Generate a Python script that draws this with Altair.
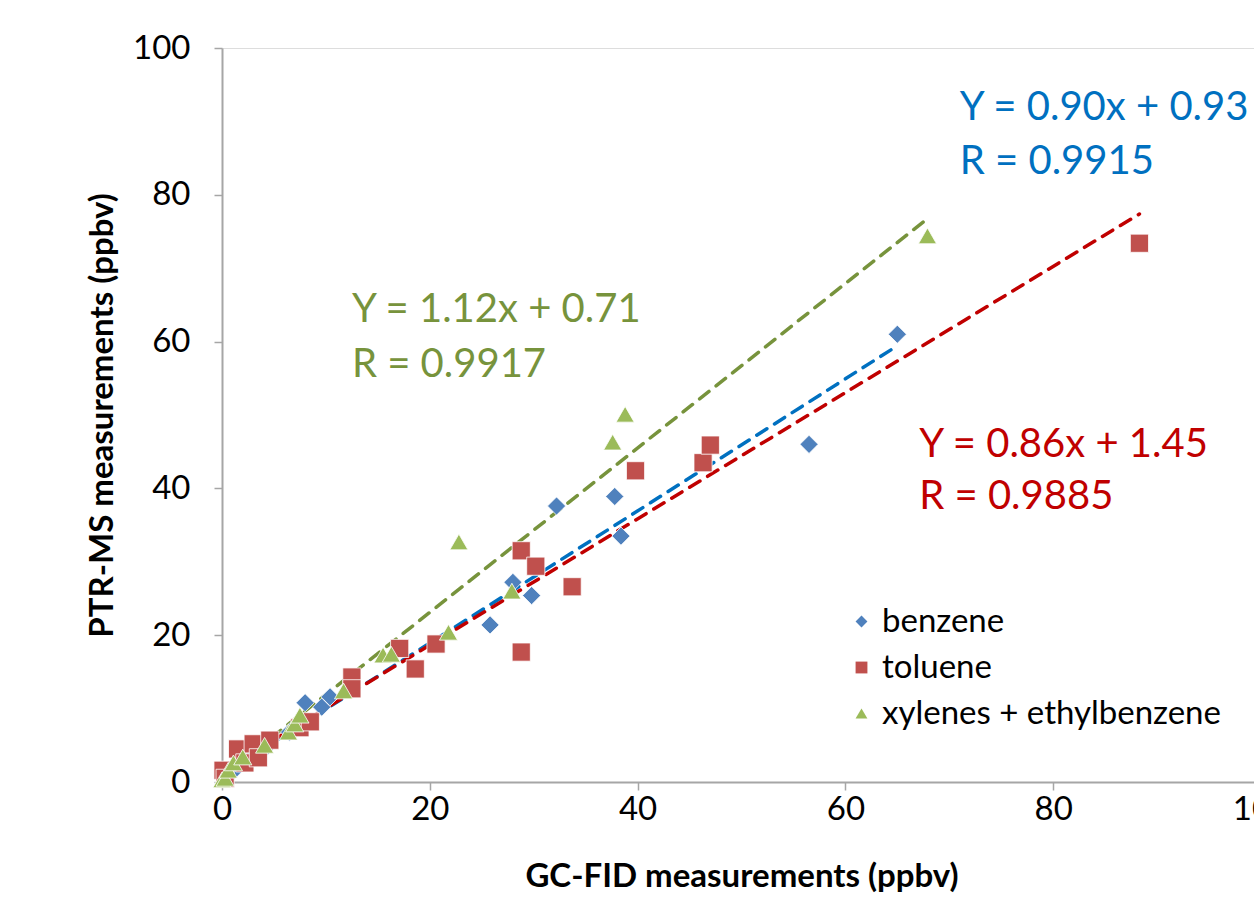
import altair as alt
import pandas as pd

# ---- data ----
benzene_x = [0.3, 1.2, 2.5, 4.2, 6.5, 8.0, 9.6, 10.4, 25.8, 28.0, 29.8, 32.2, 37.8, 38.4, 56.5, 65.0]
benzene_y = [0.8, 1.6, 2.8, 4.6, 6.8, 10.8, 10.2, 11.6, 21.4, 27.2, 25.4, 37.6, 38.9, 33.5, 46.0, 61.0]

toluene_x = [0.1, 0.3, 1.5, 2.2, 3.0, 3.5, 4.6, 7.5, 8.5, 12.5, 12.5, 17.1, 18.6, 20.6, 28.8, 28.8, 30.2, 33.7, 39.8, 46.3, 47.0, 88.3]
toluene_y = [1.6, 0.5, 4.5, 2.6, 5.2, 3.3, 5.7, 7.4, 8.2, 14.3, 12.7, 18.2, 15.4, 18.8, 31.5, 17.7, 29.4, 26.6, 42.4, 43.5, 45.9, 73.4]

xylene_x = [0.0, 0.3, 0.6, 1.1, 2.0, 4.1, 6.4, 7.0, 7.5, 11.7, 15.5, 16.3, 21.8, 22.8, 27.9, 37.6, 38.8, 67.9]
xylene_y = [0.3, 0.5, 1.6, 2.6, 3.4, 5.0, 6.8, 7.9, 9.1, 12.4, 17.3, 17.4, 20.4, 32.7, 26.0, 46.3, 50.1, 74.4]

series_names = ["benzene", "toluene", "xylenes + ethylbenzene"]
point_colors = ["#4F81BD", "#C0504D", "#9BBB59"]
point_shapes = ["diamond", "square", "triangle-up"]

fit_slope = [0.90, 0.86, 1.12]
fit_intercept = [0.93, 1.45, 0.71]
fit_r = [0.9915, 0.9885, 0.9917]
line_colors = ["#0070C0", "#C00000", "#77933C"]

# annotation anchor (data coords) for each equation block
label_x = [71.0, 67.1, 12.5]
label_y1 = [91.8, 45.9, 64.3]
label_y2 = [84.5, 38.8, 56.8]

tick_values = [0, 20, 40, 60, 80, 100]

# ---- tables ----
xs = [benzene_x, toluene_x, xylene_x]
ys = [benzene_y, toluene_y, xylene_y]
rows = []
for name, xv, yv in zip(series_names, xs, ys):
    for a, b in zip(xv, yv):
        rows.append({"series": name, "x": a, "y": b})
points_df = pd.DataFrame(rows)

line_rows = []
for name, xv, m, c, col in zip(series_names, xs, fit_slope, fit_intercept, line_colors):
    for xe in (min(xv), max(xv)):
        line_rows.append({"series": name, "x": xe, "y": m * xe + c, "color": col})
lines_df = pd.DataFrame(line_rows)

text_rows = []
for i in range(3):
    eq = f"Y = {fit_slope[i]:.2f}x + {fit_intercept[i]:.2f}"
    rr = f"R = {fit_r[i]:.4f}"
    text_rows.append({"x": label_x[i], "y": label_y1[i], "t": eq, "color": line_colors[i]})
    text_rows.append({"x": label_x[i], "y": label_y2[i], "t": rr, "color": line_colors[i]})
text_df = pd.DataFrame(text_rows)

FONT = "Lato"

xscale = alt.Scale(domain=[0, 100], nice=False, zero=True)
yscale = alt.Scale(domain=[0, 100], nice=False, zero=True)

common = dict(grid=False, labelFontSize=33, titleFontSize=33, titleFontWeight="bold",
              labelColor="#000000", titleColor="#000000", domainColor="#A6A6A6",
              tickColor="#A6A6A6", tickSize=8, labelFont=FONT, titleFont=FONT,
              domainWidth=2, tickWidth=1.5, labelFlush=False, labelOverlap=False)
xaxis = alt.Axis(values=tick_values, title="GC-FID measurements (ppbv)",
                 labelPadding=3, titlePadding=34, **common)
yaxis = alt.Axis(values=tick_values, title="PTR-MS measurements (ppbv)",
                 labelPadding=24, titlePadding=13, **common)

lines = alt.Chart(lines_df).mark_line(strokeDash=[12, 9], strokeWidth=3.5, strokeCap="round").encode(
    x=alt.X("x:Q", scale=xscale, axis=xaxis),
    y=alt.Y("y:Q", scale=yscale, axis=yaxis),
    detail="series:N",
    color=alt.Color("color:N", scale=None),
)

points = alt.Chart(points_df).mark_point(filled=True, opacity=1, size=330, stroke="white", strokeWidth=0.8).encode(
    x=alt.X("x:Q", scale=xscale),
    y=alt.Y("y:Q", scale=yscale),
    color=alt.Color("series:N", scale=alt.Scale(domain=series_names, range=point_colors),
                    legend=alt.Legend(title=None, orient="none", legendX=623, legendY=557,
                                      labelFontSize=33, labelFont=FONT, labelColor="#000000",
                                      labelLimit=0, symbolSize=140, symbolStrokeWidth=0,
                                      rowPadding=12, labelOffset=4)),
    shape=alt.Shape("series:N", scale=alt.Scale(domain=series_names, range=point_shapes)),
)

texts = alt.Chart(text_df).mark_text(align="left", baseline="middle", fontSize=40, font=FONT).encode(
    x=alt.X("x:Q", scale=xscale),
    y=alt.Y("y:Q", scale=yscale),
    text="t:N",
    color=alt.Color("color:N", scale=None),
)

chart = alt.layer(lines, points, texts).properties(
    width=1039, height=734,
    autosize=alt.AutoSizeParams(type="none"),
    padding={"left": 222, "top": 48, "right": -7, "bottom": 120},
).configure_view(stroke=None).configure(background="white")

chart.save("out.html", embed_options={"renderer": "svg", "actions": False})
